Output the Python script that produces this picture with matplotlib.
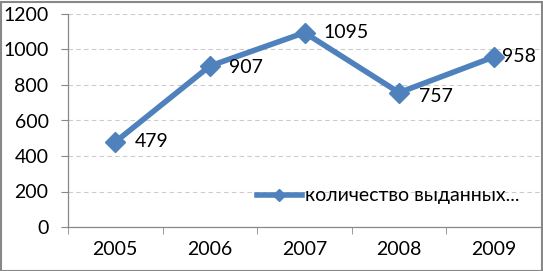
import matplotlib
matplotlib.use("Agg")
import matplotlib.pyplot as plt
from matplotlib.patches import Rectangle
from matplotlib.lines import Line2D

years = ["2005", "2006", "2007", "2008", "2009"]
values = [479, 907, 1095, 757, 958]
series_label = "количество выданных..."
yticks = [0, 200, 400, 600, 800, 1000, 1200]

plt.rcParams['font.family'] = ['Lato', 'DejaVu Sans']
W, H = 543, 271
fig = plt.figure(figsize=(W/100, H/100), dpi=100)
ax = fig.add_axes([68/W, 44/H, (541-68)/W, (227-14)/H])

color = '#4F81BD'
x = list(range(len(years)))
ax.plot(x, values, color=color, lw=4, marker='D', ms=10, mec=color, mfc=color,
        solid_joinstyle='miter', zorder=3)
offsets = [(14, 0), (14, -1), (14, 0), (14, -3), (6, 0)]
for xi, v, off in zip(x, values, offsets):
    ax.annotate(str(v), (xi, v), xytext=off, textcoords='offset points',
                ha='left', va='center', fontsize=14, color='black')

ax.set_xlim(-0.5, len(years)-0.5)
ax.set_ylim(0, 1200)
ax.set_yticks(yticks)
ax.set_yticklabels([str(t) for t in yticks], fontsize=14)
ax.set_xticks(x)
ax.set_xticklabels(years, fontsize=14)
ax.set_xticks([i-0.5 for i in range(len(years)+1)], minor=True)
ax.tick_params(axis='x', which='major', length=0, pad=10)
ax.tick_params(axis='x', which='minor', length=5, color='#888888', direction='out')
ax.tick_params(axis='y', length=5, color='#888888', pad=9)
ax.yaxis.grid(True, ls=(0, (4, 3)), color='#CCCCCC', lw=0.8)
ax.set_axisbelow(True)
for s in ['top', 'right']:
    ax.spines[s].set_visible(False)
for s in ['left', 'bottom']:
    ax.spines[s].set_color('#888888')
    ax.spines[s].set_linewidth(0.9)

h = Line2D([], [], color=color, lw=4, marker='D', ms=6, mfc=color, mec=color)
leg = ax.legend([h], [series_label], loc='center left', bbox_to_anchor=((257-68)/473, (227-196)/213),
                frameon=False, fontsize=14, handlelength=2.3, handletextpad=0.15,
                borderaxespad=0, borderpad=0)

fig.patches.append(Rectangle((0.5/W, 0.5/H), 1-2/W, 1-2/H, transform=fig.transFigure,
                             fill=False, edgecolor='#888888', lw=1.5))
fig.savefig('out.png', dpi=100)
